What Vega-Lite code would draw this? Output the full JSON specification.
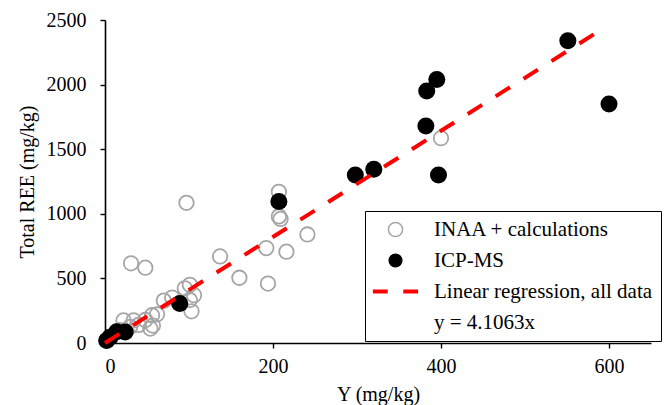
{
  "$schema": "https://vega.github.io/schema/vega-lite/v6.json",
  "width": 546,
  "height": 323,
  "autosize": "none",
  "padding": {"left": 105, "top": 20, "right": 18, "bottom": 62},
  "background": "white",
  "config": {
    "view": {"stroke": null},
    "font": "Liberation Serif",
    "axis": {
      "grid": false,
      "domainColor": "black",
      "domainWidth": 1.6,
      "tickColor": "black",
      "tickWidth": 1.4,
      "tickSize": 5,
      "labelFont": "Liberation Serif",
      "labelFontSize": 20,
      "labelColor": "black",
      "titleFont": "Liberation Serif",
      "titleFontSize": 20,
      "titleFontWeight": "normal",
      "titleColor": "black",
      "format": "d"
    }
  },
  "layer": [
    {
      "data": {
        "values": [
          {"Y": 31, "REE": 617, "method": "INAA + calculations"},
          {"Y": 48, "REE": 583, "method": "INAA + calculations"},
          {"Y": 97, "REE": 1085, "method": "INAA + calculations"},
          {"Y": 207, "REE": 1170, "method": "INAA + calculations"},
          {"Y": 207, "REE": 980, "method": "INAA + calculations"},
          {"Y": 209, "REE": 960, "method": "INAA + calculations"},
          {"Y": 241, "REE": 840, "method": "INAA + calculations"},
          {"Y": 192, "REE": 735, "method": "INAA + calculations"},
          {"Y": 216, "REE": 707, "method": "INAA + calculations"},
          {"Y": 137, "REE": 670, "method": "INAA + calculations"},
          {"Y": 160, "REE": 505, "method": "INAA + calculations"},
          {"Y": 194, "REE": 460, "method": "INAA + calculations"},
          {"Y": 400, "REE": 1585, "method": "INAA + calculations"},
          {"Y": 103, "REE": 245, "method": "INAA + calculations"},
          {"Y": 106, "REE": 370, "method": "INAA + calculations"},
          {"Y": 95, "REE": 423, "method": "INAA + calculations"},
          {"Y": 101, "REE": 450, "method": "INAA + calculations"},
          {"Y": 80, "REE": 352, "method": "INAA + calculations"},
          {"Y": 70, "REE": 328, "method": "INAA + calculations"},
          {"Y": 56, "REE": 215, "method": "INAA + calculations"},
          {"Y": 57, "REE": 135, "method": "INAA + calculations"},
          {"Y": 54, "REE": 112, "method": "INAA + calculations"},
          {"Y": 48, "REE": 178, "method": "INAA + calculations"},
          {"Y": 34, "REE": 175, "method": "INAA + calculations"},
          {"Y": 22, "REE": 175, "method": "INAA + calculations"},
          {"Y": 30, "REE": 125, "method": "INAA + calculations"},
          {"Y": 18, "REE": 100, "method": "INAA + calculations"},
          {"Y": 62, "REE": 222, "method": "INAA + calculations"},
          {"Y": 40, "REE": 140, "method": "INAA + calculations"},
          {"Y": 101, "REE": 333, "method": "INAA + calculations"},
          {"Y": 2, "REE": 20, "method": "ICP-MS"},
          {"Y": 6, "REE": 45, "method": "ICP-MS"},
          {"Y": 14, "REE": 87, "method": "ICP-MS"},
          {"Y": 24, "REE": 85, "method": "ICP-MS"},
          {"Y": 89, "REE": 305, "method": "ICP-MS"},
          {"Y": 207, "REE": 1095, "method": "ICP-MS"},
          {"Y": 298, "REE": 1300, "method": "ICP-MS"},
          {"Y": 320, "REE": 1345, "method": "ICP-MS"},
          {"Y": 382, "REE": 1680, "method": "ICP-MS"},
          {"Y": 383, "REE": 1950, "method": "ICP-MS"},
          {"Y": 395, "REE": 2040, "method": "ICP-MS"},
          {"Y": 397, "REE": 1300, "method": "ICP-MS"},
          {"Y": 551, "REE": 2340, "method": "ICP-MS"},
          {"Y": 600, "REE": 1850, "method": "ICP-MS"}
        ]
      },
      "mark": {"type": "point", "filled": true, "strokeWidth": 1.8, "opacity": 1},
      "encoding": {
        "x": {
          "field": "Y", "type": "quantitative",
          "scale": {"domain": [0, 650], "nice": false, "zero": true},
          "axis": {"values": [0, 200, 400, 600], "title": "Y (mg/kg)", "labelPadding": 8, "titlePadding": 8}
        },
        "y": {
          "field": "REE", "type": "quantitative",
          "scale": {"domain": [0, 2500], "nice": false},
          "axis": {"values": [0, 500, 1000, 1500, 2000, 2500], "title": "Total REE (mg/kg)", "labelPadding": 14, "titlePadding": 9}
        },
        "fill": {
          "field": "method", "type": "nominal",
          "scale": {
            "domain": ["INAA + calculations", "ICP-MS", "Linear regression, all data", "y = 4.1063x"],
            "range": ["transparent", "black", "red", "transparent"]
          },
          "legend": {
            "orient": "none",
            "legendX": 260,
            "legendY": 191,
            "title": null,
            "strokeColor": "black",
            "fillColor": "white",
            "padding": 8,
            "labelFont": "Liberation Serif",
            "labelFontSize": 21,
            "labelColor": "black",
            "labelLimit": 400,
            "labelOffset": 28,
            "symbolOffset": 12,
            "rowPadding": 9,
            "symbolSize": 200,
            "symbolStrokeWidth": 1.5,
            "symbolOpacity": 1
          }
        },
        "stroke": {
          "field": "method", "type": "nominal",
          "scale": {
            "domain": ["INAA + calculations", "ICP-MS", "Linear regression, all data", "y = 4.1063x"],
            "range": ["#a6a6a6", "transparent", "transparent", "transparent"]
          }
        },
        "shape": {
          "field": "method", "type": "nominal",
          "scale": {
            "domain": ["INAA + calculations", "ICP-MS", "Linear regression, all data", "y = 4.1063x"],
            "range": ["circle", "circle", "M-3.2,-0.3H-1.1V0.3H-3.2ZM1.1,-0.3H3.2V0.3H1.1Z", "circle"]
          }
        },
        "size": {
          "condition": {"test": "datum.method === 'ICP-MS'", "value": 290},
          "value": 210
        }
      }
    },
    {
      "data": {"values": [{"Y": 0, "REE": 0}, {"Y": 597, "REE": 2451}]},
      "mark": {"type": "line", "color": "red", "strokeWidth": 4, "strokeDash": [17, 16]},
      "encoding": {
        "x": {"field": "Y", "type": "quantitative"},
        "y": {"field": "REE", "type": "quantitative"}
      }
    }
  ]
}
